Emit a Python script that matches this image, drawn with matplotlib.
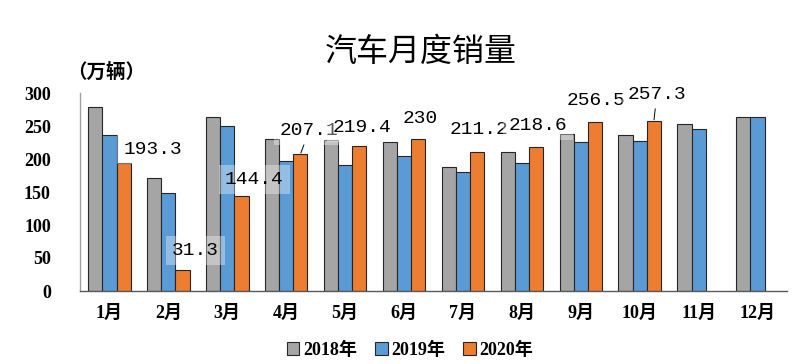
import numpy as np
import matplotlib
matplotlib.use("Agg")
import matplotlib.pyplot as plt
from matplotlib.patches import Patch

MONTHS = ["1月", "2月", "3月", "4月", "5月", "6月", "7月", "8月", "9月", "10月", "11月", "12月"]
SALES_2018 = [279, 171, 264, 231, 229, 226, 188, 210, 238, 237, 253, 264]
SALES_2019 = [236, 148, 250, 197, 191, 205, 181, 194, 226, 227, 245, 264]
SALES_2020 = [193.3, 31.3, 144.4, 207.1, 219.4, 230, 211.2, 218.6, 256.5, 257.3]
YEARS = ["2018年", "2019年", "2020年"]
COLORS = ["#A5A5A5", "#5B9BD5", "#ED7D31"]

# label offsets in pixels from bar top (dx, dy), and whether a leader line is drawn
LABEL_OFFSETS = [(29, 14), (13, 20), (13, 16), (9, 24), (3, 19),
                 (2, 21), (2, 22), (2, 21), (1, 21), (3, 27)]
LEADER = [False, False, False, True, False, False, False, False, False, True]

LATIN_CJK = ["Liberation Serif", "Noto Sans CJK SC"]


def main():
    fig = plt.figure(figsize=(8.06, 3.64), dpi=100)
    ax = fig.add_axes([80 / 806, 1 - 291 / 364, 707 / 806, 198 / 364])

    x = np.arange(len(MONTHS))
    w = 0.24
    series = [SALES_2018, SALES_2019, SALES_2020]
    for i, (vals, col) in enumerate(zip(series, COLORS)):
        xs = x[:len(vals)] + (i - 1) * w
        ax.bar(xs, vals, width=w, color=col, edgecolor="#262626", linewidth=0.8, zorder=2)

    # data labels for 2020
    for i, v in enumerate(SALES_2020):
        dx, dy = LABEL_OFFSETS[i]
        arrow = dict(arrowstyle="-", color="black", lw=0.7, shrinkA=0, shrinkB=1) if LEADER[i] else None
        ax.annotate(f"{v:g}", xy=(x[i] + w, v), xytext=(dx, dy), textcoords="offset pixels",
                    ha="center", va="center", fontsize=14, family="Liberation Mono",
                    color="black", zorder=4, arrowprops=arrow,
                    bbox=dict(boxstyle="square,pad=0.3", facecolor="white", alpha=0.35, edgecolor="none"))

    ax.set_xlim(-0.5, len(MONTHS) - 0.5)
    ax.set_ylim(0, 300)
    ax.set_yticks(range(0, 301, 50))
    ax.set_xticks(x)
    ax.set_xticklabels(MONTHS)
    for lab in ax.get_xticklabels() + ax.get_yticklabels():
        lab.set_family(LATIN_CJK)
        lab.set_fontsize(13)
        lab.set_fontweight("bold")
    ax.tick_params(axis="y", length=0, pad=21)
    ax.tick_params(axis="x", length=0, pad=10)
    for s in ["top", "right"]:
        ax.spines[s].set_visible(False)
    ax.spines["left"].set_color("#A0A0A0")
    ax.spines["bottom"].set_color("#595959")
    ax.spines["left"].set_linewidth(1)
    ax.spines["bottom"].set_linewidth(1)

    fig.text(421 / 806, 1 - 52 / 364, "汽车月度销量", ha="center", va="center",
             fontsize=23, family="Noto Sans CJK SC")
    fig.text(106 / 806, 1 - 72 / 364, "（万辆）", ha="center", va="center",
             fontsize=14, family="Noto Sans CJK SC", fontweight="bold")

    handles = [Patch(facecolor=c, edgecolor="#262626", linewidth=0.8) for c in COLORS]
    fig.legend(handles, YEARS, loc="center", bbox_to_anchor=(410 / 806, 1 - 350 / 364), ncol=3,
               frameon=False, handlelength=0.7, handleheight=0.7, handletextpad=0.2,
               columnspacing=1.0, prop=dict(family=LATIN_CJK, size=13, weight="bold"))

    fig.savefig("out.png", dpi=100)


if __name__ == "__main__":
    main()
